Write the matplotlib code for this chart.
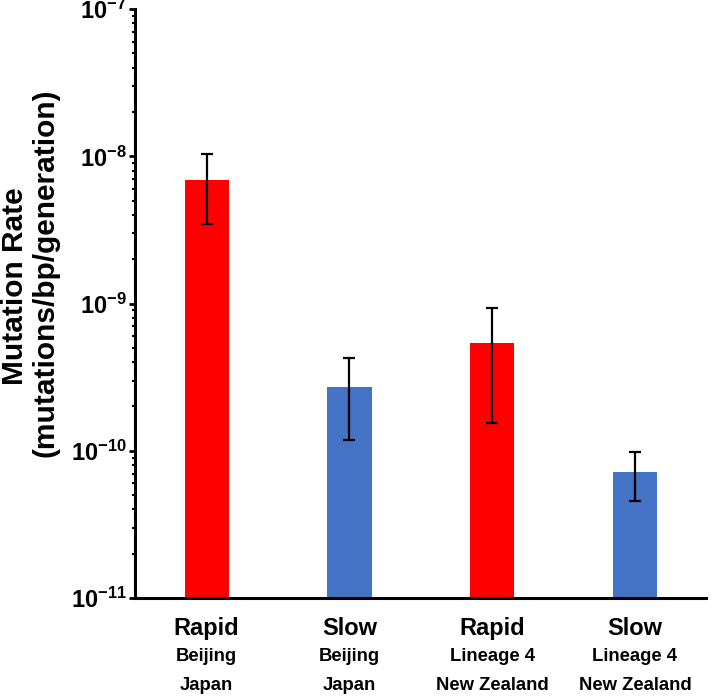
import numpy as np
import matplotlib.pyplot as plt

plt.rcParams['font.family'] = ['Liberation Sans', 'DejaVu Sans']
plt.rcParams['mathtext.fontset'] = 'custom'
plt.rcParams['mathtext.rm'] = 'Liberation Sans:bold'
plt.rcParams['mathtext.bf'] = 'Liberation Sans:bold'

groups = ["Rapid", "Slow", "Rapid", "Slow"]
lineages = ["Beijing", "Beijing", "Lineage 4", "Lineage 4"]
regions = ["Japan", "Japan", "New Zealand", "New Zealand"]
rates = [6.9e-9, 2.72e-10, 5.42e-10, 7.13e-11]
err_hi = [1.03e-8, 4.27e-10, 9.27e-10, 9.8e-11]
err_lo = [3.48e-9, 1.19e-10, 1.55e-10, 4.58e-11]
colors = ["#FF0000", "#4472C4", "#FF0000", "#4472C4"]
ytick_exp = [-11, -10, -9, -8, -7]

fig = plt.figure(figsize=(7.12, 6.97), dpi=100)
ax = fig.add_axes([0.19, 0.142, 0.802, 0.845])

x = np.arange(len(rates))
yerr = [np.array(rates) - np.array(err_lo), np.array(err_hi) - np.array(rates)]
ax.bar(x, rates, width=0.31, color=colors, bottom=0)
ax.errorbar(x, rates, yerr=yerr, fmt='none', ecolor='black', elinewidth=1.6,
            capsize=4, capthick=1.6)

ax.set_yscale('log')
ax.set_ylim(1e-11, 1e-7)
ax.set_xlim(-0.5, 3.5)
ax.set_yticks([10.0 ** e for e in ytick_exp])
ax.set_yticklabels([r'$\mathbf{10^{%d}}$' % e for e in ytick_exp], fontsize=17)
ax.tick_params(axis='y', which='major', length=4, width=2, pad=2)
ax.tick_params(axis='y', which='minor', length=2.5, width=1.5)
ax.set_xticks([])

for s in ['top', 'right']:
    ax.spines[s].set_visible(False)
for s in ['left', 'bottom']:
    ax.spines[s].set_linewidth(2.2)

tr = ax.get_xaxis_transform()
for i in range(len(rates)):
    ax.text(x[i], -0.052, groups[i], transform=tr, ha='center', va='center',
            fontsize=17, fontweight='bold')
    ax.text(x[i], -0.100, lineages[i], transform=tr, ha='center', va='center',
            fontsize=13.3, fontweight='bold')
    ax.text(x[i], -0.148, regions[i], transform=tr, ha='center', va='center',
            fontsize=13.3, fontweight='bold')

fig.text(0.021, 0.59, "Mutation Rate", rotation=90, ha='center', va='center',
         fontsize=21.5, fontweight='bold')
fig.text(0.064, 0.608, "(mutations/bp/generation)", rotation=90, ha='center', va='center',
         fontsize=21.5, fontweight='bold')

fig.savefig("out.png", dpi=100)
